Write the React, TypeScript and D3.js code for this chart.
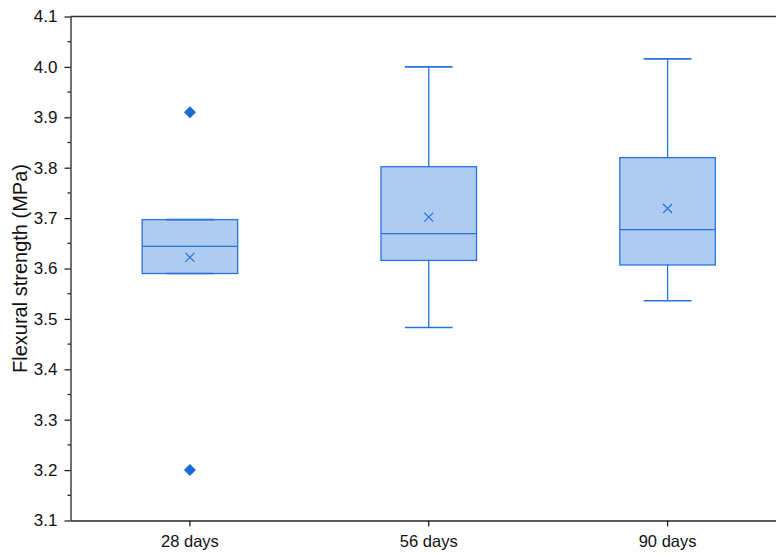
import React, { useEffect, useRef } from "react";
import * as d3 from "d3";

// flexural strength box stats per curing age
const categories = ["28 days", "56 days", "90 days"];
const whiskerLow = [3.59, 3.483, 3.536];
const q1 = [3.59, 3.616, 3.607];
const medians = [3.644, 3.669, 3.677];
const means = [3.622, 3.702, 3.719];
const q3 = [3.697, 3.802, 3.82];
const whiskerHigh = [3.697, 4.0, 4.016];
const outliers = [
  { cat: "28 days", value: 3.91 },
  { cat: "28 days", value: 3.2 },
];
const yTicks = [3.1, 3.2, 3.3, 3.4, 3.5, 3.6, 3.7, 3.8, 3.9, 4.0, 4.1];

const App = () => {
  const ref = useRef<SVGSVGElement>(null);

  useEffect(() => {
    const svg = d3.select(ref.current);
    svg.selectAll("*").remove();

    const left = 70.5;
    const right = 787;
    const top = 16.5;
    const bottom = 520.5;
    const stroke = "#2a73de";
    const fill = "#aecbf2";
    const font = "'Liberation Sans', Arial, sans-serif";

    const x = d3
      .scaleBand()
      .domain(categories)
      .range([left, right])
      .paddingInner(0.6)
      .paddingOuter(0.3);

    const y = d3.scaleLinear().domain([3.1, 4.1]).range([bottom, top]);

    const bw = x.bandwidth();
    const capW = bw / 2;

    const g = svg.append("g");

    categories.forEach((c, i) => {
      const cx = x(c)! + bw / 2;
      // whiskers
      g.append("line")
        .attr("x1", cx).attr("x2", cx)
        .attr("y1", y(q3[i])).attr("y2", y(whiskerHigh[i]))
        .attr("stroke", stroke).attr("stroke-width", 1.3);
      g.append("line")
        .attr("x1", cx).attr("x2", cx)
        .attr("y1", y(q1[i])).attr("y2", y(whiskerLow[i]))
        .attr("stroke", stroke).attr("stroke-width", 1.3);
      // box
      g.append("rect")
        .attr("x", x(c)!)
        .attr("width", bw)
        .attr("y", y(q3[i]))
        .attr("height", y(q1[i]) - y(q3[i]))
        .attr("fill", fill)
        .attr("stroke", stroke)
        .attr("stroke-width", 1.3);
      // caps
      [whiskerHigh[i], whiskerLow[i]].forEach((v) => {
        g.append("line")
          .attr("x1", cx - capW / 2).attr("x2", cx + capW / 2)
          .attr("y1", y(v)).attr("y2", y(v))
          .attr("stroke", stroke).attr("stroke-width", 1.6);
      });
      // median
      g.append("line")
        .attr("x1", x(c)!).attr("x2", x(c)! + bw)
        .attr("y1", y(medians[i])).attr("y2", y(medians[i]))
        .attr("stroke", stroke).attr("stroke-width", 1.3);
      // mean marker
      const my = y(means[i]);
      const s = 4.5;
      g.append("path")
        .attr("d", `M${cx - s},${my - s}L${cx + s},${my + s}M${cx - s},${my + s}L${cx + s},${my - s}`)
        .attr("stroke", stroke)
        .attr("stroke-width", 1.2);
    });

    // outliers
    g.selectAll(".out")
      .data(outliers)
      .enter()
      .append("path")
      .attr("class", "out")
      .attr("transform", (d) => `translate(${x(d.cat)! + bw / 2},${y(d.value)})`)
      .attr("d", "M0,-6L6,0L0,6L-6,0Z")
      .attr("fill", "#1b6ad8");

    // axes
    const axisColor = "#222";
    const yAxis = svg.append("g")
      .attr("transform", `translate(${left},0)`)
      .call(d3.axisLeft(y).tickValues(yTicks).tickFormat(d3.format(".1f")).tickSize(6).tickSizeOuter(0));
    yAxis.select(".domain").attr("stroke", axisColor).attr("stroke-width", 1.3);
    yAxis.selectAll(".tick line").attr("stroke", axisColor).attr("stroke-width", 1.3);
    yAxis.selectAll("text")
      .attr("font-family", font).attr("font-size", 17).attr("fill", "#111").attr("x", -13);

    // minor ticks
    const minor = d3.range(0, yTicks.length - 1).map((i) => (yTicks[i] + yTicks[i + 1]) / 2);
    svg.append("g").selectAll("line").data(minor).enter().append("line")
      .attr("x1", left - 3).attr("x2", left)
      .attr("y1", (d) => y(d)).attr("y2", (d) => y(d))
      .attr("stroke", axisColor).attr("stroke-width", 1.3);

    const xAxis = svg.append("g")
      .attr("transform", `translate(0,${bottom})`)
      .call(d3.axisBottom(x).tickSize(6).tickSizeOuter(0));
    xAxis.select(".domain").attr("stroke", axisColor).attr("stroke-width", 1.3);
    xAxis.selectAll(".tick line").attr("stroke", axisColor).attr("stroke-width", 1.3);
    xAxis.selectAll("text")
      .attr("font-family", font).attr("font-size", 16.5).attr("fill", "#111").attr("dy", "1.05em");

    // top and right frame
    svg.append("line")
      .attr("x1", left).attr("x2", right).attr("y1", top).attr("y2", top)
      .attr("stroke", "#333").attr("stroke-width", 1.6);
    svg.append("line")
      .attr("x1", right).attr("x2", right).attr("y1", top).attr("y2", bottom)
      .attr("stroke", "#333").attr("stroke-width", 1.3);

    svg.append("text")
      .attr("transform", `translate(27,${(top + bottom) / 2}) rotate(-90)`)
      .attr("text-anchor", "middle")
      .attr("font-family", font)
      .attr("font-size", 20)
      .attr("fill", "#111")
      .text("Flexural strength (MPa)");
  }, []);

  return (
    <svg
      ref={ref}
      width={776}
      height={556}
      style={{ position: "absolute", left: 0, top: 0, background: "#fff" }}
    />
  );
};

export default App;
